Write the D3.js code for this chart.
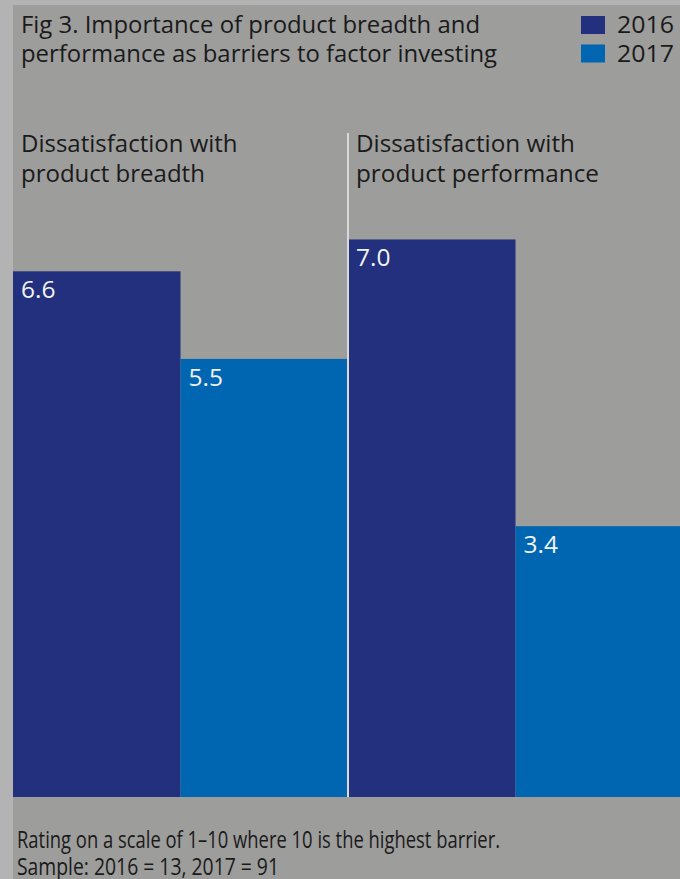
<!DOCTYPE html>
<html>
<head>
<meta charset="utf-8">
<script src="https://cdn.jsdelivr.net/npm/d3@7"></script>
<style>
  html, body { margin: 0; padding: 0; background: #b3b3b3; }
  svg { display: block; }
  text { font-family: "Open Sans", "Noto Sans", sans-serif; }
</style>
</head>
<body>
<svg id="chart" width="680" height="879"></svg>
<script>
const categories = ["Dissatisfaction with product breadth", "Dissatisfaction with product performance"];
const categoryLines = [["Dissatisfaction with", "product breadth"], ["Dissatisfaction with", "product performance"]];
const seriesNames = ["2016", "2017"];
const values2016 = [6.6, 7.0];
const values2017 = [5.5, 3.4];
const titleLines = ["Fig 3. Importance of product breadth and", "performance as barriers to factor investing"];
const footLines = ["Rating on a scale of 1–10 where 10 is the highest barrier.", "Sample: 2016 = 13, 2017 = 91"];
const colors = ["#22307e", "#0066b2"];

const W = 680, H = 879;
const svg = d3.select("#chart");

// fit a text's rendered width to a target (keeps condensed look of the original face)
function fitWidth(sel, target) {
  sel.each(function() {
    const w = this.getComputedTextLength();
    if (Math.abs(w - target) > 2) {
      d3.select(this).attr("textLength", target).attr("lengthAdjust", "spacingAndGlyphs");
    }
  });
}

// panel backgrounds
svg.append("rect").attr("x", 0).attr("y", 0).attr("width", W).attr("height", H).attr("fill", "#b3b3b3");
svg.append("rect").attr("x", 13).attr("y", 5).attr("width", W - 13).attr("height", H - 5).attr("fill", "#9d9d9c");

const x0 = d3.scaleBand().domain(categories).range([13, 683]).padding(0);
const x1 = d3.scaleBand().domain(seriesNames).range([0, x0.bandwidth()]).padding(0);
const y = d3.scaleLinear().domain([0, 10]).range([797, 797 - 796.5]);
const color = d3.scaleOrdinal().domain(seriesNames).range(colors);

const data = categories.map((c, i) => ({
  cat: c,
  vals: [{ s: "2016", v: values2016[i] }, { s: "2017", v: values2017[i] }]
}));

const plot = svg.append("g");
const groups = plot.selectAll("g.grp").data(data).join("g")
  .attr("class", "grp")
  .attr("transform", d => `translate(${x0(d.cat)},0)`);

groups.selectAll("rect").data(d => d.vals).join("rect")
  .attr("x", d => x1(d.s))
  .attr("y", d => y(d.v))
  .attr("width", x1.bandwidth())
  .attr("height", d => y(0) - y(d.v))
  .attr("fill", d => color(d.s));

groups.selectAll("text.val").data(d => d.vals).join("text")
  .attr("class", "val")
  .attr("x", d => x1(d.s) + 8)
  .attr("y", d => y(d.v) + 27)
  .attr("fill", "#f2f2f2")
  .attr("font-size", 24.5)
  .text(d => d3.format(".1f")(d.v));

// category labels
const catWidths = [[218, 184], [219, 243]];
groups.each(function(d, i) {
  const t = d3.select(this).append("text")
    .attr("x", 8)
    .attr("y", 152)
    .attr("fill", "#1a1a1a")
    .attr("font-size", 24);
  categoryLines[i].forEach((ln, j) => {
    const ts = t.append("tspan").attr("x", 8).attr("dy", j === 0 ? 0 : 29.5).text(ln);
    fitWidth(ts, catWidths[i][j]);
  });
});

// divider
svg.append("rect")
  .attr("x", x0(categories[1]) - 1)
  .attr("y", 133)
  .attr("width", 2)
  .attr("height", y(0) - 133)
  .attr("fill", "#d9d9d9");

// title
const titleWidths = [459, 476];
const title = svg.append("text").attr("x", 21).attr("y", 33).attr("fill", "#1a1a1a").attr("font-size", 24);
titleLines.forEach((ln, j) => {
  const ts = title.append("tspan").attr("x", 21).attr("dy", j === 0 ? 0 : 29).text(ln);
  fitWidth(ts, titleWidths[j]);
});

// legend
const legend = svg.append("g").selectAll("g").data(seriesNames).join("g")
  .attr("transform", (d, i) => `translate(581,${16 + i * 28.5})`);
legend.append("rect").attr("width", 24).attr("height", 18).attr("fill", d => color(d));
const legText = legend.append("text").attr("x", 36).attr("y", 17).attr("fill", "#1a1a1a").attr("font-size", 23).text(d => d);
fitWidth(legText, 57);

// footer
const footWidths = [483, 262];
const foot = svg.append("text").attr("x", 17).attr("y", 848).attr("fill", "#1a1a1a").attr("font-size", 23);
footLines.forEach((ln, j) => {
  const ts = foot.append("tspan").attr("x", 17).attr("dy", j === 0 ? 0 : 27).text(ln);
  fitWidth(ts, footWidths[j]);
});
</script>
</body>
</html>
